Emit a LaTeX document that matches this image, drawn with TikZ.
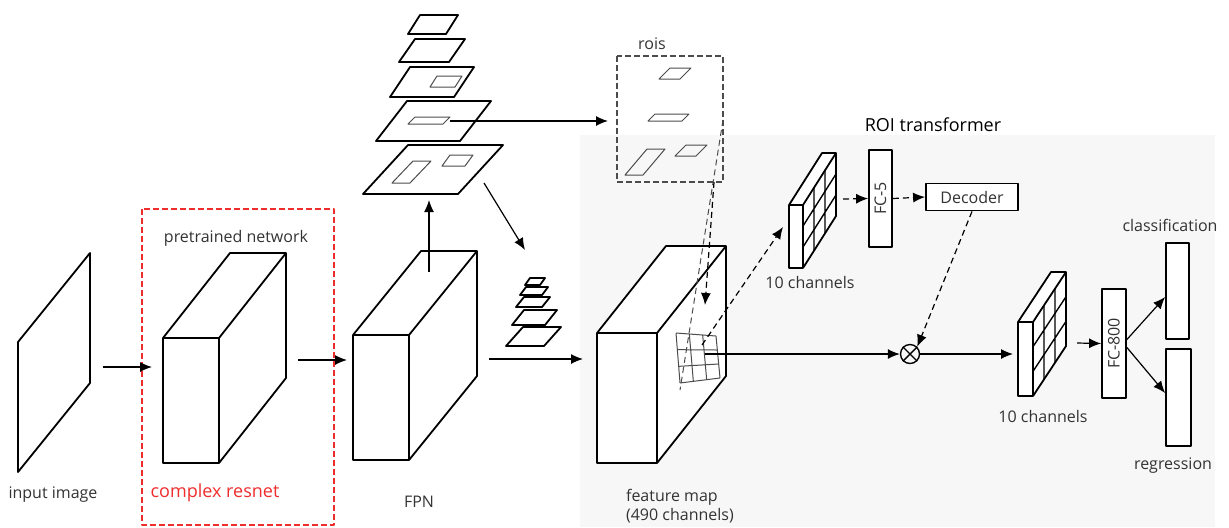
\documentclass[tikz,border=0pt]{standalone}
\usepackage{fontspec}
\setmainfont{Open Sans}
\usetikzlibrary{arrows.meta,calc}
\definecolor{resred}{RGB}{238,45,45}

\begin{document}
\begin{tikzpicture}[x=0.5pt,y=-0.5pt,line join=round,
  edge/.style={line width=0.9pt},
  thin line/.style={line width=0.5pt,black!70},
  box/.style={draw,line width=0.9pt,fill=white,inner sep=0pt},
  lab/.style={text=black!80,font=\fontsize{8}{9.6}\selectfont},
  big/.style={font=\fontsize{9}{11}\selectfont},
  arr/.style={-{Latex[length=6pt,width=5pt]},line width=0.6pt},
  darr/.style={arr,dash pattern=on 3pt off 2pt}]
\useasboundingbox (0,0) rectangle (1229,527);
\fill[black!3] (580,135) rectangle (1215,527);

\draw[edge] (18,342)--(90,253)--(90,383)--(18,472)--cycle;
\node[lab] (inlab) at (53,495) {input image};

\draw[resred,line width=0.6pt,dash pattern=on 3pt off 1.5pt] (142,209) rectangle (334,525);
\node[lab] (prelab) at (236,238) {pretrained network};
\node[big,text=resred] (reslab) at (215,493) {complex resnet};

\foreach \a/\b/\c/\d/\e/\f in {163/338/219/463/67/-85,353/335/409/460/68/-84,597/333/657/463/69/-87,789/205/803/268/33/-52,1018/322/1033/396/33/-50}{
  \fill[white] (\a,\d)--(\a,\b)--(\a+\e,\b+\f)--(\c+\e,\b+\f)--(\c+\e,\d+\f)--(\c,\d)--cycle;
  \draw[edge] (\a,\b) rectangle (\c,\d) (\a,\b)--(\a+\e,\b+\f)--(\c+\e,\b+\f)--(\c+\e,\d+\f)--(\c,\d) (\c,\b)--(\c+\e,\b+\f);
}
\node[lab] (fpnlab) at (419,502) {FPN};
\node[lab,anchor=north west,align=left] (fmlab) at (619,482) {feature map\\(490 channels)};

\foreach \c/\b/\d/\e/\f in {803/205/268/33/-52,1033/322/396/33/-50}
  \foreach \i in {1,2}
    \draw[line width=0.7pt] ($(\c,\b)!{\i/3}!(\c+\e,\b+\f)$)--($(\c,\d)!{\i/3}!(\c+\e,\d+\f)$) ($(\c,\b)!{\i/3}!(\c,\d)$)--($(\c+\e,\b+\f)!{\i/3}!(\c+\e,\d+\f)$);
\node[lab] (ch1lab) at (810,282) {10 channels};
\node[lab] (ch2lab) at (1043,416) {10 channels};

\foreach \x/\y/\w/\s/\h in {408/34/38/12/19,399/62/50/16/23,390/97/64/20/30,376/141/84/31/40,363/194/95/45/49}
  \draw[edge] (\x,\y)--++(\w,0)--++(\s,-\h)--++(-\w,0)--cycle;
\foreach \x/\y/\w/\s/\h in {430/87/25/7/11,408/124/35/7/7,392/183/18/21/22,442/166/23/8/11}
  \draw[thin line] (\x,\y)--++(\w,0)--++(\s,-\h)--++(-\w,0)--cycle;

\foreach \x/\y/\w/\s/\h in {525/285/15/5/7,520/295/22/6/8,516/307/26/8/10,512/325/33/12/15,506/346/38/17/19}
  \draw[edge,fill=white] (\x,\y)--++(\w,0)--++(\s,-\h)--++(-\w,0)--cycle;

\draw[black!70,line width=0.6pt,dash pattern=on 3pt off 1.5pt] (617,56) rectangle (723,182);
\node[lab] (roilab) at (652,44) {rois};
\foreach \x/\y/\w/\s/\h in {659/79/21/11/11,648/121/34/7/7,625/175/18/22/26,675/156/21/11/11}
  \draw[thin line] (\x,\y)--++(\w,0)--++(\s,-\h)--++(-\w,0)--cycle;

\coordinate (g1) at (676,333); \coordinate (g2) at (716,336);
\coordinate (g3) at (720,378); \coordinate (g4) at (680,383);
\foreach \i in {0,1,2,3}
  \draw[thin line] ($(g1)!{\i/3}!(g2)$)--($(g4)!{\i/3}!(g3)$) ($(g1)!{\i/3}!(g4)$)--($(g2)!{\i/3}!(g3)$);
\draw[thin line,dash pattern=on 3pt off 2pt] (723,120)--(680,390);

\node[big] (roitlab) at (933,125) {ROI transformer};
\node[box,lab,minimum width=11.5pt,minimum height=48.5pt] (fc5) at (880.5,198.5) {\rotatebox{90}{FC-5}};
\node[box,lab,minimum width=46pt,minimum height=13.5pt] (dec) at (972,197) {Decoder};
\node[circle,draw,line width=0.7pt,inner sep=0pt,minimum size=9.5pt] (mul) at (910,354) {};
\draw[line width=0.7pt] (mul.north west)--(mul.south east) (mul.north east)--(mul.south west);
\node[box,lab,minimum width=12pt,minimum height=54.5pt] (fc800) at (1114,343.5) {\rotatebox{90}{FC-800}};
\node[box,minimum width=11.5pt,minimum height=48pt] (cls) at (1177.5,291) {};
\node[box,minimum width=12.5pt,minimum height=48.5pt] (reg) at (1178.5,397.5) {};
\node[lab] (clslab) at (1170,225) {classification};
\node[lab] (reglab) at (1173,466) {regression};

\coordinate (inout) at (103,367);  \coordinate (resin) at (152,367);
\coordinate (resout) at (298,360); \coordinate (fpnin) at (347,360);
\coordinate (fpnup) at (429,272);  \coordinate (pyrin) at (429,200);
\coordinate (pyrout) at (484,183); \coordinate (spyr) at (525,250);
\coordinate (roisrc) at (450,121); \coordinate (roiin) at (608,121);
\coordinate (fpnout) at (489,359); \coordinate (fmin) at (583,359);
\coordinate (roibot) at (714,182); \coordinate (gtop) at (705,305);
\coordinate (gmid) at (702,345);   \coordinate (ch1in) at (783,227);
\coordinate (gc) at (705,354);     \coordinate (ch1out) at (843,199);
\coordinate (ch2in) at (1013,354); \coordinate (ch2out) at (1077,343);

\draw[arr] (inout)--(resin);
\draw[arr] (resout)--(fpnin);
\draw[arr] (fpnup)--(pyrin);
\draw[arr] (pyrout)--(spyr);
\draw[arr] (roisrc)--(roiin);
\draw[arr] (fpnout)--(fmin);
\draw[darr] (roibot)--(gtop);
\draw[darr] (gmid)--(ch1in);
\draw[arr] (gc)--(mul.west);
\draw[darr] (ch1out)--(fc5.west);
\draw[darr] (fc5.east)--(dec.west);
\draw[darr] (dec.south)--(mul.north east);
\draw[arr] (mul.east)--(ch2in);
\draw[arr] (ch2out)--(fc800.west);
\draw[arr] ($(fc800.east)+(0,-4)$)--(cls.west|-0,297);
\draw[arr] ($(fc800.east)+(0,4)$)--(reg.west|-0,393);
\end{tikzpicture}
\end{document}
